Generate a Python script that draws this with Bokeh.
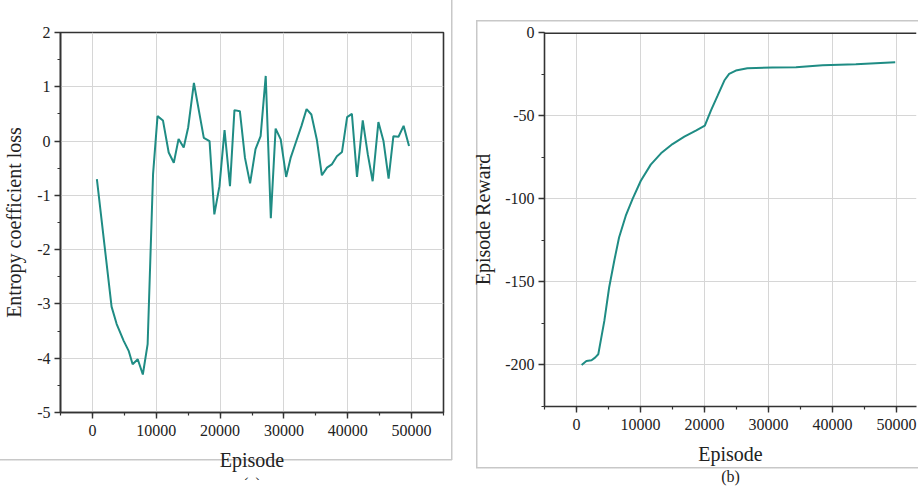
from bokeh.plotting import figure
from bokeh.layouts import row
from bokeh.models import (Range1d, SingleIntervalTicker, LinearAxis,
                          FixedTicker, PrintfTickFormatter, Span)
from bokeh.embed import file_html
from bokeh.resources import INLINE

# ---- data: (a) entropy coefficient loss ----
ent_x = [700, 3000, 3800, 4900, 5700, 6300, 7100, 7900, 8650, 9500,
         10200, 11050, 11950, 12750, 13500, 14300, 15000, 15900, 17450, 18350,
         19100, 19900, 20700, 21550, 22250, 23100, 23900, 24700, 25550, 26350,
         27150, 27950, 28700, 29500, 30350, 31050, 31850, 32750, 33550, 34300,
         35150, 35950, 36750, 37500, 38300, 39100, 39900, 40650, 41450, 42350,
         43150, 43900, 44800, 45600, 46400, 47150, 47950, 48750, 49600]
ent_y = [-0.70, -3.05, -3.37, -3.68, -3.87, -4.11, -4.02, -4.30, -3.74, -0.61,
         0.46, 0.38, -0.21, -0.40, 0.04, -0.12, 0.25, 1.07, 0.06, 0.00,
         -1.35, -0.83, 0.20, -0.83, 0.57, 0.55, -0.31, -0.78, -0.15, 0.09,
         1.20, -1.42, 0.23, 0.03, -0.66, -0.31, -0.03, 0.28, 0.59, 0.49,
         0.03, -0.63, -0.49, -0.43, -0.28, -0.20, 0.44, 0.50, -0.66, 0.38,
         -0.25, -0.74, 0.35, 0.00, -0.69, 0.09, 0.08, 0.28, -0.09]

# ---- data: (b) episode reward ----
rew_x = [800, 1550, 2350, 2900, 3400, 4350, 5100, 5900, 6650, 7700,
         8750, 10050, 11600, 13200, 15000, 16850, 18650, 20050, 21000, 22050,
         23100, 23850, 24900, 26700, 30600, 34300, 38450, 43650, 49800]
rew_y = [-200.0, -197.6, -197.2, -195.6, -193.6, -173.5, -153.4, -137.3, -123.3, -110.2,
         -100.2, -89.2, -79.5, -72.7, -67.1, -62.7, -59.0, -56.0, -47.0, -38.0,
         -28.9, -24.9, -22.9, -21.5, -21.1, -20.9, -19.7, -19.1, -17.9]

LINE = "#1f8c84"
FONT = "Liberation Serif"
AX = "#333333"
GRID = "#d6d6d6"
FRAME = "#c8c8c8"
TXT = "#222222"


def style_axis(ax):
    ax.axis_line_color = AX
    ax.axis_line_width = 1.6
    ax.major_tick_line_color = AX
    ax.minor_tick_line_color = AX
    ax.major_tick_line_width = 1.4
    ax.minor_tick_line_width = 1.2
    ax.major_tick_in = 0
    ax.major_tick_out = 6
    ax.minor_tick_in = 0
    ax.minor_tick_out = 3
    ax.major_label_text_font = FONT
    ax.major_label_text_font_size = "16px"
    ax.major_label_text_color = TXT
    ax.axis_label_text_font = FONT
    ax.axis_label_text_font_style = "normal"
    ax.axis_label_text_color = TXT
    ax.axis_label_text_font_size = "20px"
    ax.formatter = PrintfTickFormatter(format="%d")


def caption_axis(p, text, standoff):
    cap = LinearAxis(ticker=FixedTicker(ticks=[]), axis_line_color=None,
                     major_tick_in=0, major_tick_out=0, minor_tick_in=0,
                     minor_tick_out=0, major_label_standoff=0,
                     axis_label=text, axis_label_text_font=FONT,
                     axis_label_text_font_style="normal",
                     axis_label_text_font_size="16px",
                     axis_label_text_color=TXT, axis_label_standoff=standoff)
    p.add_layout(cap, "below")


def base(p, ylabel, yint):
    p.xaxis.ticker = SingleIntervalTicker(interval=10000, num_minor_ticks=2)
    p.yaxis.ticker = SingleIntervalTicker(interval=yint, num_minor_ticks=2)
    style_axis(p.xaxis[0])
    style_axis(p.yaxis[0])
    p.xaxis.axis_label = "Episode"
    p.yaxis.axis_label = ylabel
    p.xaxis.major_label_standoff = 6
    p.yaxis.major_label_standoff = 4
    p.xgrid.grid_line_color = GRID
    p.ygrid.grid_line_color = GRID
    p.xgrid.ticker = p.xaxis.ticker
    p.ygrid.ticker = p.yaxis.ticker
    p.background_fill_color = "white"
    p.border_fill_alpha = 0


def seg(x, y, w, h):
    return f"linear-gradient({FRAME},{FRAME}) {x}px {y}px / {w}px {h}px no-repeat"


# ---- panel (a) ----
p1 = figure(frame_width=383, frame_height=380, output_backend="svg",
            toolbar_location=None,
            x_range=Range1d(-5000, 55000), y_range=Range1d(-5, 2),
            min_border_left=54, min_border_right=20, min_border_top=15,
            min_border_bottom=85)
base(p1, "Entropy coefficient loss", 1)
p1.yaxis.axis_label_standoff = 9
p1.xaxis.axis_label_standoff = 10
p1.outline_line_color = AX
p1.outline_line_width = 1.6
p1.line(ent_x, ent_y, line_color=LINE, line_width=2)
caption_axis(p1, "(a)", 1)
p1.styles = {"background": ", ".join([seg(451, 0, 1.5, 460), seg(0, 459, 452, 1.5)]) + ", #ffffff"}

# ---- panel (b) ----
p2 = figure(frame_width=372, frame_height=374, output_backend="svg",
            toolbar_location=None,
            x_range=Range1d(-5000, 53125), y_range=Range1d(-225, 0),
            min_border_left=81, min_border_right=2, min_border_top=32,
            min_border_bottom=82)
base(p2, "Episode Reward", 50)
p2.yaxis.axis_label_standoff = 8
p2.xaxis.axis_label_standoff = 10
p2.outline_line_color = None
p2.add_layout(Span(location=0, dimension="width", line_color=AX, line_width=3.2))
p2.line(rew_x, rew_y, line_color=LINE, line_width=2)
caption_axis(p2, "(b)", 0)
p2.styles = {"background": ", ".join([seg(13, 20, 1.5, 448), seg(13, 20, 500, 1.5),
                                      seg(13, 467, 500, 1.5)]) + ", #ffffff"}

layout = row(p1, p2)
open("out.html", "w").write(file_html(layout, INLINE))
